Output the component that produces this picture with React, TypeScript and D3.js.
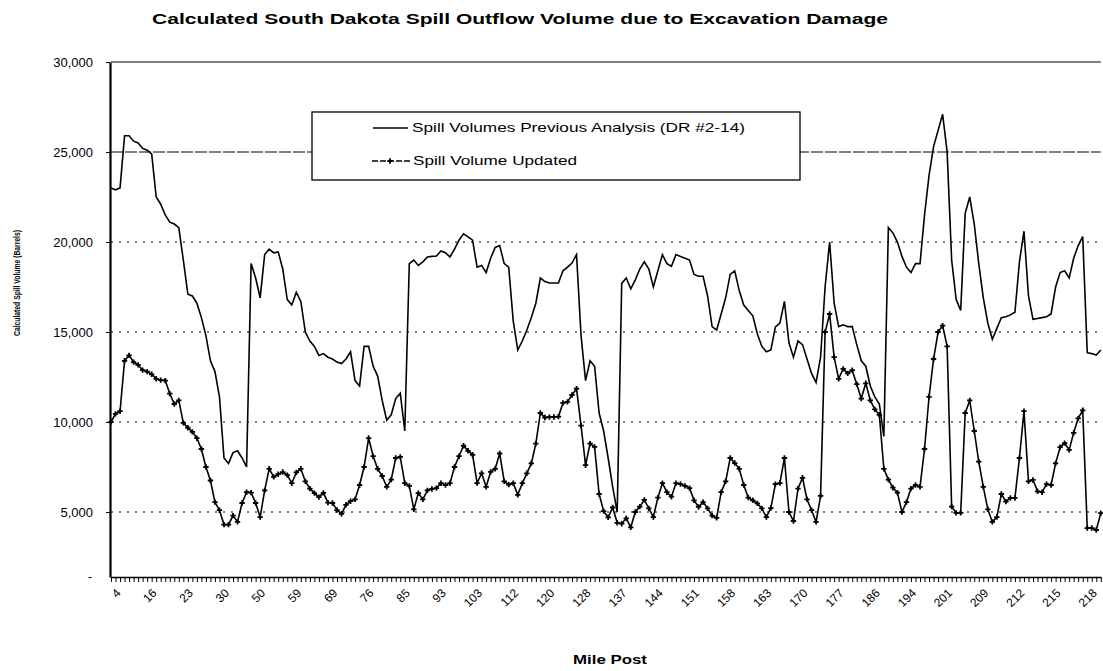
import { useEffect, useRef } from "react";
import * as d3 from "d3";

// Mile post labels, shown on every 8th segment along the x axis
const tickLabels = [
  "4", "16", "23", "30", "50", "59", "69", "76", "85", "93", "103", "112", "120", "128",
  "137", "144", "151", "158", "163", "170", "177", "186", "194", "201", "209", "212", "215", "218",
];
const labelEvery = 8;

// Spill Volumes Previous Analysis (DR #2-14), barrels
const previousAnalysis = [
  23000, 22900, 23000, 25900, 25900, 25600, 25500, 25200, 25100, 24900,
  22500, 22100, 21500, 21100, 21000, 20800, 19000, 17100, 17000, 16600,
  15800, 14800, 13400, 12800, 11400, 8000, 7700, 8300, 8400, 8000,
  7500, 18800, 18000, 16900, 19300, 19600, 19400, 19450, 18500, 16800,
  16500, 17200, 16700, 15000, 14500, 14200, 13700, 13800, 13600, 13500,
  13330, 13250, 13500, 13900, 12300, 12000, 14200, 14200, 13100, 12550,
  11200, 10100, 10400, 11300, 11600, 9500, 18800, 19000, 18700, 18900,
  19170, 19200, 19220, 19500, 19400, 19170, 19600, 20100, 20450, 20280,
  20100, 18600, 18700, 18300, 19100, 19700, 19800, 18800, 18600, 15600,
  14000, 14500, 15100, 15800, 16600, 18000, 17800, 17720, 17720, 17720,
  18400, 18600, 18830, 19300, 14800, 12300, 13400, 13100, 10500, 9500,
  8000, 6400, 5000, 17700, 18000, 17400, 17900, 18500, 18900, 18500,
  17500, 18400, 19300, 18800, 18650, 19300, 19200, 19100, 19000, 18200,
  18100, 18100, 17000, 15300, 15100, 16000, 16900, 18200, 18400, 17300,
  16500, 16200, 15900, 14900, 14200, 13900, 14000, 15280, 15500, 16700,
  14400, 13600, 14500, 14300, 13500, 12700, 12200, 13600, 17500, 20000,
  16600, 15300, 15400, 15300, 15300, 14300, 13400, 13100, 12000, 11400,
  11000, 9200, 20800, 20500, 20000, 19200, 18600, 18300, 18800, 18800,
  21500, 23700, 25300, 26200, 27100, 25000, 19000, 16800, 16200, 21600,
  22500, 21000, 18800, 16900, 15500, 14600, 15200, 15800, 15850, 15950,
  16100, 18900, 20600, 17000, 15700, 15750, 15800, 15850, 16000, 17500,
  18300, 18400, 18000, 19100, 19800, 20300, 13850, 13800, 13720, 14000,
];

// Spill Volume Updated, barrels
const updatedVolume = [
  10000, 10450, 10600, 13400, 13700, 13330, 13170, 12880, 12800, 12650,
  12400, 12330, 12300, 11580, 11000, 11200, 9950, 9680, 9450, 9100,
  8500, 7500, 6750, 5550, 5100, 4300, 4300, 4800, 4450, 5500,
  6100, 6080, 5500, 4720, 6200, 7400, 6950, 7100, 7220, 7050,
  6600, 7200, 7400, 6700, 6300, 6050, 5830, 6060, 5520, 5500,
  5110, 4900, 5400, 5600, 5700, 6500, 7500, 9110, 8100, 7400,
  7000, 6400, 6800, 8000, 8060, 6600, 6450, 5150, 6050, 5700,
  6200, 6280, 6330, 6600, 6500, 6600, 7500, 8100, 8680, 8400,
  8180, 6610, 7150, 6400, 7230, 7400, 8250, 6700, 6520, 6600,
  5950, 6600, 7150, 7700, 8800, 10500, 10250, 10270, 10280, 10300,
  11060, 11120, 11500, 11850, 9800, 7600, 8800, 8620, 6000, 5050,
  4700, 5250, 4400, 4350, 4650, 4150, 5000, 5300, 5670, 5200,
  4720, 5800, 6600, 6100, 5850, 6600, 6550, 6450, 6330, 5650,
  5280, 5550, 5200, 4800, 4670, 6100, 6700, 8000, 7720, 7400,
  6500, 5800, 5650, 5480, 5200, 4720, 5220, 6550, 6610, 8000,
  5000, 4500, 6300, 6900, 5700, 5100, 4450, 5900, 15000, 16000,
  13600, 12400, 12950, 12700, 12880, 12100, 11300, 12150, 11200, 10700,
  10400, 7400, 6800, 6350, 6080, 5000, 5550, 6300, 6500, 6400,
  8500, 11400, 13500, 15000, 15350, 14200, 5300, 4950, 4950, 10500,
  11200, 9500, 7800, 6400, 5150, 4450, 4720, 6000, 5580, 5780,
  5780, 8000, 10600, 6700, 6780, 6150, 6100, 6550, 6500, 7700,
  8600, 8830, 8450, 9400, 10200, 10650, 4110, 4110, 4000, 4940,
];

const yTicks = [5000, 10000, 15000, 20000, 25000, 30000];

const FONT = "Arial, 'Liberation Sans', sans-serif";

export default function App() {
  const ref = useRef<SVGSVGElement>(null);
  const width = 1103;
  const height = 671;
  const plot = { left: 111, right: 1100.8, top: 62, bottom: 577 };

  useEffect(() => {
    if (!ref.current) return;
    const svg = d3.select(ref.current);
    svg.selectAll("*").remove();

    const idx = previousAnalysis.map((_, i) => i);
    const x = d3.scalePoint<number>().domain(idx).range([plot.left, plot.right]);
    // 30,000 sits on the top edge; the axis floor is a bit above zero in the scan
    const y = d3.scaleLinear().domain([1389, 30000]).range([plot.bottom, plot.top]);

    svg.append("rect").attr("width", width).attr("height", height).attr("fill", "#fff");

    // Title
    svg.append("text")
      .attr("x", 152).attr("y", 24)
      .attr("textLength", 736).attr("lengthAdjust", "spacingAndGlyphs")
      .style("font-family", FONT).style("font-size", "14px").style("font-weight", "bold")
      .text("Calculated South Dakota Spill Outflow Volume due to Excavation Damage");

    // Gridlines
    svg.append("g").selectAll("line")
      .data(yTicks.filter(t => t < 30000))
      .enter().append("line")
      .attr("x1", plot.left).attr("x2", plot.right)
      .attr("y1", d => y(d)).attr("y2", d => y(d))
      .attr("stroke", "#000").attr("stroke-width", 1)
      .attr("stroke-dasharray", d => d === 25000 ? "12,2" : "2,6");

    // Top border
    svg.append("line")
      .attr("x1", plot.left).attr("x2", plot.right)
      .attr("y1", plot.top).attr("y2", plot.top)
      .attr("stroke", "#000").attr("stroke-width", 1.2);

    // Y axis
    const yAxis = svg.append("g")
      .attr("transform", `translate(${plot.left - 1},0)`)
      .call(d3.axisLeft(y).tickValues(yTicks).tickFormat(d3.format(",")).tickSize(4).tickSizeOuter(0));
    yAxis.select(".domain").attr("stroke-width", 2.2);
    yAxis.selectAll("text")
      .attr("x", -17)
      .style("font-family", FONT).style("font-size", "13px").style("fill", "#000");

    // small mark at the axis floor
    svg.append("text")
      .attr("x", 92).attr("y", 581).attr("text-anchor", "end")
      .style("font-family", FONT).style("font-size", "12px")
      .text("-");

    // X axis
    const xAxis = svg.append("g")
      .attr("transform", `translate(0,${plot.bottom})`)
      .call(d3.axisBottom(x)
        .tickSize(5)
        .tickSizeOuter(0)
        .tickFormat(i => (i % labelEvery === 0 ? tickLabels[i / labelEvery] ?? "" : "")));
    xAxis.select(".domain").attr("stroke-width", 1.5);
    xAxis.selectAll("text")
      .attr("text-anchor", "end")
      .attr("transform", "rotate(-45)")
      .attr("dx", "-0.4em").attr("dy", "0.9em")
      .style("font-family", FONT).style("font-size", "12px").style("fill", "#000");

    // Axis titles
    svg.append("text")
      .attr("x", 610).attr("y", 664).attr("text-anchor", "middle")
      .attr("textLength", 74).attr("lengthAdjust", "spacingAndGlyphs")
      .style("font-family", FONT).style("font-size", "13px").style("font-weight", "bold")
      .text("Mile Post");

    svg.append("text")
      .attr("transform", "translate(20,283) rotate(-90)")
      .attr("text-anchor", "middle")
      .attr("textLength", 106).attr("lengthAdjust", "spacingAndGlyphs")
      .style("font-family", FONT).style("font-size", "9px").style("font-weight", "bold")
      .text("Calculated Spill Volume (Barrels)");

    const line = d3.line<number>().x((_, i) => x(i) as number).y(d => y(d));

    // Previous analysis
    svg.append("path")
      .datum(previousAnalysis)
      .attr("d", line)
      .attr("fill", "none").attr("stroke", "#000").attr("stroke-width", 1.6);

    // Updated
    svg.append("path")
      .datum(updatedVolume)
      .attr("d", line)
      .attr("fill", "none").attr("stroke", "#000").attr("stroke-width", 1.6);

    const marker = d3.symbol().type(d3.symbolCross).size(16);
    svg.append("g").selectAll("path")
      .data(updatedVolume)
      .enter().append("path")
      .attr("d", marker)
      .attr("transform", (d, i) => `translate(${x(i)},${y(d)})`)
      .attr("fill", "#000");

    // Legend
    const lg = svg.append("g");
    lg.append("rect")
      .attr("x", 312).attr("y", 112).attr("width", 488).attr("height", 68)
      .attr("fill", "#fff").attr("stroke", "#000").attr("stroke-width", 1.3);
    lg.append("line")
      .attr("x1", 373).attr("x2", 408).attr("y1", 128).attr("y2", 128)
      .attr("stroke", "#000").attr("stroke-width", 1.6);
    lg.append("text")
      .attr("x", 412).attr("y", 132)
      .attr("textLength", 333).attr("lengthAdjust", "spacingAndGlyphs")
      .style("font-family", FONT).style("font-size", "12px")
      .text("Spill Volumes Previous Analysis (DR #2-14)");
    lg.append("line")
      .attr("x1", 372).attr("x2", 410).attr("y1", 161).attr("y2", 161)
      .attr("stroke", "#000").attr("stroke-width", 1.6).attr("stroke-dasharray", "6,2");
    lg.append("path")
      .attr("d", marker)
      .attr("transform", "translate(390,161)")
      .attr("fill", "#000");
    lg.append("text")
      .attr("x", 413).attr("y", 165)
      .attr("textLength", 164).attr("lengthAdjust", "spacingAndGlyphs")
      .style("font-family", FONT).style("font-size", "12px")
      .text("Spill Volume Updated");
  }, []);

  return (
    <svg
      ref={ref}
      width={width}
      height={height}
      style={{ position: "absolute", left: 0, top: 0, display: "block" }}
    />
  );
}
